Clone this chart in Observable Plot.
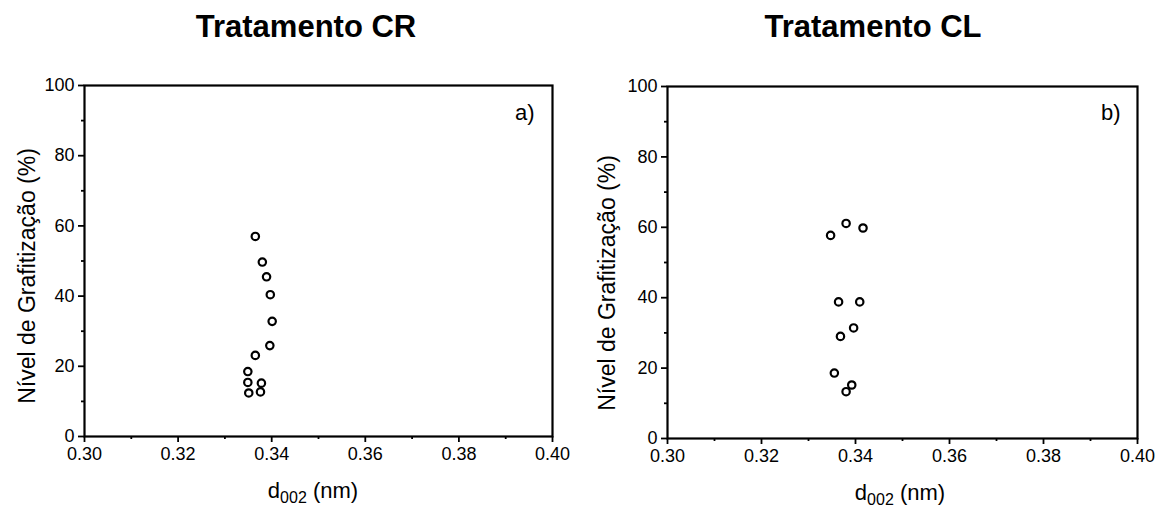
<!DOCTYPE html>
<html>
<head>
<meta charset="utf-8">
<script src="https://cdn.jsdelivr.net/npm/d3@7"></script>
<script src="https://cdn.jsdelivr.net/npm/@observablehq/plot@0.6"></script>
<style>
  html, body { margin: 0; padding: 0; background: #fff; }
  #wrap { position: relative; width: 1156px; height: 509px; overflow: hidden; font-family: "Liberation Sans", Arial, sans-serif; }
  .title { position: absolute; top: 9px; font-weight: bold; font-size: 31px; color: #000; white-space: nowrap; transform: translateX(-50%); }
  .panel { position: absolute; top: 55px; }
  .panel svg g[aria-label$="tick label"] text { font-size: 18px; }
</style>
</head>
<body>
<div id="wrap">
  <div class="title" id="t1" style="left:306px"></div>
  <div class="title" id="t2" style="left:873px"></div>
  <div class="panel" id="p1" style="left:0px"></div>
  <div class="panel" id="p2" style="left:578px"></div>
</div>
<script>
// Data
const titles = ["Tratamento CR", "Tratamento CL"];
const panelTags = ["a)", "b)"];
const crX = [0.3365, 0.3380, 0.3389, 0.3397, 0.3401, 0.3396, 0.3365, 0.3349, 0.3349, 0.3378, 0.3351, 0.3376];
const crY = [57.0, 49.7, 45.5, 40.4, 32.8, 25.9, 23.1, 18.5, 15.4, 15.2, 12.4, 12.7];
const clX = [0.3347, 0.3380, 0.3416, 0.3364, 0.3409, 0.3396, 0.3368, 0.3355, 0.3392, 0.3380];
const clY = [57.7, 61.1, 59.8, 38.8, 38.8, 31.4, 29.0, 18.6, 15.2, 13.3];
const xTicks = [0.30, 0.32, 0.34, 0.36, 0.38, 0.40];
const xMinor = [0.31, 0.33, 0.35, 0.37, 0.39];
const yTicks = [0, 20, 40, 60, 80, 100];
const yMinor = [10, 30, 50, 70, 90];
const yLabel = "Nível de Grafitização (%)";
const xLabelMain = "d";
const xLabelSub = "002";
const xLabelUnit = " (nm)";

const FONT = '"Liberation Sans", Arial, sans-serif';

document.getElementById("t1").textContent = titles[0];
document.getElementById("t2").textContent = titles[1];

function makePanel(xs, ys, tag, m) {
  const data = xs.map((x, i) => ({x, y: ys[i]}));
  const svgH = 454;
  const chart = Plot.plot({
    width: 578,
    height: svgH,
    marginLeft: m.left,
    marginRight: m.right,
    marginTop: m.top,
    marginBottom: m.bottom,
    style: {fontFamily: FONT, color: "#000", background: "#fff"},
    x: {domain: [0.30, 0.40]},
    y: {domain: [0, 100]},
    marks: [
      Plot.axisX({ticks: xMinor, tickSize: 3, strokeWidth: 1.8, tickFormat: () => "", label: null}),
      Plot.axisY({ticks: yMinor, tickSize: 3, strokeWidth: 1.8, tickFormat: () => "", label: null}),
      Plot.axisX({ticks: xTicks, tickSize: 6, tickPadding: 5, strokeWidth: 1.8, fontSize: 18, tickFormat: d => d.toFixed(2), label: null}),
      Plot.axisY({ticks: yTicks, tickSize: 6, tickPadding: 4, strokeWidth: 1.8, fontSize: 18, tickFormat: d => String(d), label: null}),
      Plot.frame({stroke: "#000", strokeWidth: 2.2}),
      Plot.dot(data, {x: "x", y: "y", r: 3.7, stroke: "#000", strokeWidth: 2.2, fill: "none"}),
      Plot.text([tag], {frameAnchor: "top-right", text: d => d, textAnchor: "end", lineAnchor: "bottom", dx: -m.tagDx, dy: m.tagDy, fontSize: 22, fill: "#000"})
    ]
  });
  const svg = d3.select(chart);
  svg.selectAll('g[aria-label$="tick label"]').attr("font-size", 18);
  // y axis label (rotated)
  svg.append("text")
    .attr("transform", `translate(${m.ylx},${m.yly}) rotate(-90)`)
    .attr("text-anchor", "middle")
    .attr("font-family", FONT)
    .attr("font-size", 23)
    .attr("fill", "#000")
    .text(yLabel);
  // x axis label with subscript
  const t = svg.append("text")
    .attr("x", m.xlx).attr("y", m.xly)
    .attr("text-anchor", "middle")
    .attr("font-family", FONT)
    .attr("font-size", 22)
    .attr("fill", "#000");
  t.append("tspan").text(xLabelMain);
  t.append("tspan").attr("font-size", 16).attr("dy", 5).text(xLabelSub);
  t.append("tspan").attr("dy", -5).text(xLabelUnit);
  return chart;
}

document.getElementById("p1").appendChild(makePanel(crX, crY, panelTags[0], {
  left: 84, right: 26, top: 30, bottom: 73, tagDx: 18, tagDy: 34,
  ylx: 35, yly: 276 - 55, xlx: 313, xly: 498 - 55
}));
document.getElementById("p2").appendChild(makePanel(clX, clY, panelTags[1], {
  left: 89, right: 19, top: 31, bottom: 71, tagDx: 17, tagDy: 33,
  ylx: 615 - 578, yly: 283 - 55, xlx: 900 - 578, xly: 500 - 55
}));
</script>
</body>
</html>
